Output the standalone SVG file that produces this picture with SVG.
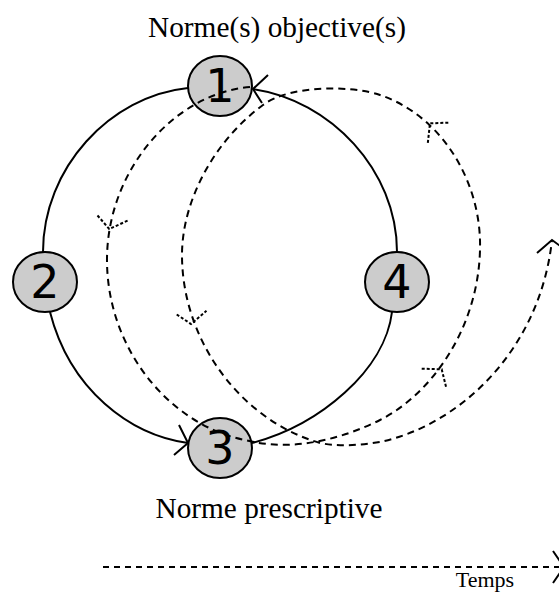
<svg xmlns="http://www.w3.org/2000/svg" width="559" height="593" viewBox="0 0 559 593">
<style>
.solid{fill:none;stroke:#000;stroke-width:2}
.dash{fill:none;stroke:#000;stroke-width:2;stroke-dasharray:7 5}
.dashhead{fill:none;stroke:#000;stroke-width:2;stroke-dasharray:3 2}
.node ellipse{fill:#cccccc;stroke:#000;stroke-width:2}
.num{font-family:"DejaVu Sans",sans-serif;font-size:46px;text-anchor:middle;fill:#000}
.lbl{font-family:"Liberation Serif",serif;fill:#000}
</style>
<rect width="559" height="593" fill="#fff"/>
<g id="cycle-arcs">
<path class="solid" d="M188 88 C110 96 43 168 43 252"/>
<path class="solid" d="M50 312 C70 390 130 435 188 443"/>
<path class="solid" d="M179 425 L188 443 L174 455"/>
<path class="solid" d="M252 443 C320 425 385 370 392 312"/>
<path class="solid" d="M397 252 C397 170 330 100 253 89"/>
<path class="solid" d="M268 75 L253 89 L262 103"/>
</g>
<g id="node1" class="node"><ellipse cx="220" cy="86" rx="32" ry="30"/><text class="num" x="220" y="102">1</text></g>
<g id="node2" class="node"><ellipse cx="45" cy="282" rx="32" ry="30"/><text class="num" x="45" y="298">2</text></g>
<g id="node3" class="node"><ellipse cx="220" cy="448" rx="32" ry="30"/><text class="num" x="220" y="464">3</text></g>
<g id="node4" class="node"><ellipse cx="397" cy="282" rx="32" ry="30"/><text class="num" x="397" y="298">4</text></g>
<g id="spiral">
<path class="dash" d="M250 87 C175 93 106 170 107 262 C108 350 170 425 245 440 C290 452 340 440 380 420 C430 395 478 330 480 250 C482 180 440 115 380 95 C350 85 290 85 263 105 C215 140 182 200 182 255 C182 340 240 420 320 443 C340 447 360 445 380 442 C460 425 540 350 552 240"/>
<path class="dashhead" d="M97.5 215.5 L109.3 229 L128 220.5"/>
<path class="dashhead" d="M176.7 314.5 L191 324 L206.5 310.7"/>
<path class="dashhead" d="M421.7 368.7 L441.7 369.3 L446 386.7"/>
<path class="dashhead" d="M448.3 122.7 L430 123.3 L427.7 144"/>
<path class="solid" d="M537 253 L552 240 L567 251"/>
</g>
<g id="time-axis">
<path class="dash" d="M103 567 L563 567" style="stroke-dasharray:6 5"/>
<path class="solid" d="M553 551 L564 567 L553 583"/>
</g>
<text class="lbl" x="277" y="37" font-size="29.3" text-anchor="middle">Norme(s) objective(s)</text>
<text class="lbl" x="269" y="518" font-size="29.3" text-anchor="middle">Norme prescriptive</text>
<text class="lbl" x="485" y="587" font-size="22" text-anchor="middle">Temps</text>
</svg>
